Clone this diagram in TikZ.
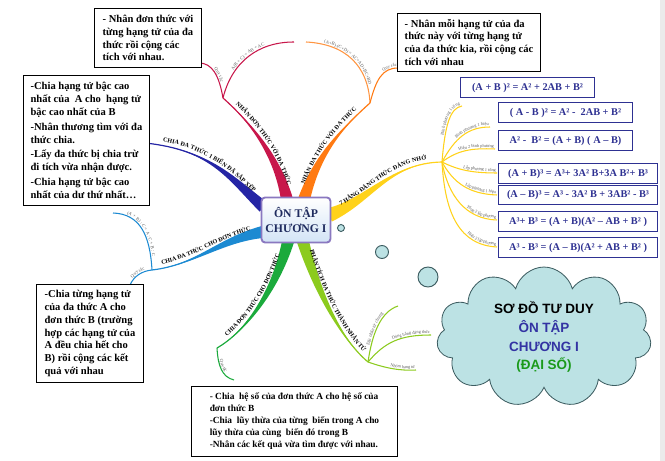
\documentclass[tikz,border=0pt]{standalone}
\usepackage{fontspec}
\setmainfont{Liberation Serif}
\newfontfamily\cloudfont{Liberation Sans}
\definecolor{mmRed}{HTML}{C8174B}
\definecolor{mmOrange}{HTML}{FF7A12}
\definecolor{mmYellow}{HTML}{FFD21A}
\definecolor{mmNavy}{HTML}{2525A5}
\definecolor{mmSky}{HTML}{1C8AD2}
\definecolor{mmGreen}{HTML}{1BAA3C}
\definecolor{mmLime}{HTML}{8CCB1E}
\definecolor{mmInk}{HTML}{2E3192}
\definecolor{mmHub}{HTML}{8A78C0}
\definecolor{mmPage}{HTML}{D3E4F6}
\definecolor{mmTitle}{HTML}{1F2B5E}
\definecolor{mmBubble}{HTML}{BCE2E4}
\definecolor{mmEdge}{HTML}{3C5C60}
\definecolor{mmBlue}{HTML}{3333A3}
\definecolor{mmLeaf}{HTML}{1A9A1A}
\definecolor{mmLabel}{HTML}{5A5A5A}
\usetikzlibrary{calc,positioning,shapes.symbols,decorations.text,backgrounds}

% tapered branch: colour, start, control 1, control 2, end, half width
\newcommand{\mmbranch}[6]{%
  \fill[#1] ($(#2)!#6!90:(#3)$) .. controls ($(#3)!0.5*#6!90:(#4)$) and (#4) .. (#5)
    .. controls (#4) and ($(#3)!0.5*#6!-90:(#4)$) .. ($(#2)!#6!-90:(#3)$) -- cycle;
  \draw[#1, line width=1pt] (#2) .. controls (#3) and (#4) .. (#5);}

\tikzset{
  note/.style={draw, line width=0.8pt, fill=white, anchor=north west, align=left,
    inner xsep=0.14cm, font=\fontsize{9}{11}\selectfont\bfseries},
  formula/.style={draw=mmInk, line width=0.9pt, fill=white, text=mmInk, anchor=north west,
    align=left, inner xsep=0.1cm, minimum height=0.6cm, font=\fontsize{8.8}{10}\selectfont\bfseries},
  twig/.style={line width=0.9pt},
  bubble/.style={circle, draw=mmEdge, line width=0.8pt, fill=mmBubble, inner sep=0pt},
  brtext/.style={postaction={decorate, decoration={text along path, text align=center,
    raise=3.5pt, text={|\fontsize{5.2}{6}\selectfont\bfseries|#1}}}},
  twtext/.style={postaction={decorate, decoration={text along path, text align=center,
    raise=1.4pt, text color=mmLabel, text={|\fontsize{3.9}{4}\selectfont|#1}}}},
  twend/.style={postaction={decorate, decoration={text along path, text align={right, right indent=1pt},
    raise=1.4pt, text color=mmLabel, text={|\fontsize{3.7}{4}\selectfont|#1}}}},
}

\begin{document}
\begin{tikzpicture}[x=0.03cm, y=-0.03cm]
  \useasboundingbox (0,0) rectangle (665,461);

  \node[draw=mmHub, line width=1.6pt, rounded corners=3pt, top color=white, bottom color=mmPage,
    minimum width=2.04cm, minimum height=1.35cm, align=center, text=mmTitle,
    font=\fontsize{10}{12.5}\selectfont\bfseries] (hub) at (296,220) {ÔN TẬP\\CHƯƠNG I};

  \coordinate (sMono) at ($(hub.north)+(-9,3)$);
  \coordinate (sPoly) at ($(hub.north)+(8,3)$);
  \coordinate (sHd) at ($(hub.east)+(-2,-5)$);
  \coordinate (sLong) at ($(hub.west)+(3,-13)$);
  \coordinate (sDivPoly) at ($(hub.west)+(2,12)$);
  \coordinate (sDivMono) at ($(hub.south)+(-8,-2)$);
  \coordinate (sFactor) at ($(hub.south)+(7,-2)$);

  \coordinate (jMono) at (223,98);
  \coordinate (jPoly) at (370,103);
  \coordinate (jHd) at (442,162);
  \coordinate (eLong) at (145,143);
  \coordinate (jDivPoly) at (152,270);
  \coordinate (jDivMono) at (217,348);
  \coordinate (jFactor) at (368,362);

  \begin{scope}[on background layer]
    \fill[white] (0,0) rectangle (665,461);
    \fill[black!8] (660,0) rectangle (665,461);
    \mmbranch{mmRed}{sMono}{277,155}{250,122}{jMono}{0.18cm}
    \mmbranch{mmOrange}{sPoly}{317,155}{342,128}{jPoly}{0.18cm}
    \mmbranch{mmYellow}{sHd}{370,200}{390,163}{jHd}{0.21cm}
    \mmbranch{mmNavy}{sLong}{232,180}{212,150}{eLong}{0.18cm}
    \mmbranch{mmSky}{sDivPoly}{220,240}{195,265}{jDivPoly}{0.18cm}
    \mmbranch{mmGreen}{sDivMono}{275,292}{245,332}{jDivMono}{0.18cm}
    \mmbranch{mmLime}{sFactor}{318,295}{342,340}{jFactor}{0.18cm}
  \end{scope}

  \path[brtext={NHÂN ĐƠN THỨC VỚI ĐA THỨC}] (jMono) .. controls (250,122) and (277,155) .. (sMono);
  \path[brtext={NHÂN ĐA THỨC VỚI ĐA THỨC}] (sPoly) .. controls (317,155) and (342,128) .. (jPoly);
  \path[brtext={7 HẰNG ĐẲNG THỨC ĐÁNG NHỚ}] (sHd) .. controls (370,200) and (390,163) .. (jHd);
  \path[brtext={CHIA ĐA THỨC 1 BIẾN ĐÃ SẮP XẾP}] (eLong) .. controls (212,150) and (232,180) .. (sLong);
  \path[brtext={CHIA ĐA THỨC CHO ĐƠN THỨC}] (jDivPoly) .. controls (195,265) and (220,240) .. (sDivPoly);
  \path[brtext={CHIA ĐƠN THỨC CHO ĐƠN THỨC}] (jDivMono) .. controls (245,332) and (275,292) .. (sDivMono);
  \path[brtext={PHÂN TÍCH ĐA THỨC THÀNH NHÂN TỬ}] (sFactor) .. controls (318,295) and (342,340) .. (jFactor);

  \coordinate (eMonoRule) at (199,63);
  \coordinate (eMonoLaw) at (294,42);
  \coordinate (ePolyLaw) at (306,42);
  \coordinate (ePolyRule) at (398,68);
  \coordinate (eDivLaw) at (113,213);
  \coordinate (eDivRule) at (130,285);
  \coordinate (eMonoDiv) at (234,380);
  \coordinate (eFac1) at (398,306);
  \coordinate (eFac2) at (431,335);
  \coordinate (eFac3) at (416,370);

  \draw[twig, mmRed, twtext={Quy tắc}] (eMonoRule) .. controls (212,63) and (219,75) .. (jMono);
  \draw[twig, mmRed, twtext={A(B + C) = AB + AC}] (jMono) .. controls (232,62) and (258,42) .. (eMonoLaw);
  \draw[twig, mmOrange!80, twtext={(A+B).(C+D) = AC+AD+BC+BD}] (ePolyLaw) .. controls (345,44) and (368,65) .. (jPoly);
  \draw[twig, mmOrange, twend={Quy tắc}] (jPoly) .. controls (376,80) and (382,68) .. (ePolyRule);
  \draw[twig, mmSky, twtext={(A + B) : C = A : C + B : C}] (eDivLaw) .. controls (140,214) and (150,235) .. (jDivPoly);
  \draw[twig, mmSky, twtext={Quy tắc}] (eDivRule) .. controls (134,276) and (142,271) .. (jDivPoly);
  \draw[twig, mmGreen, twtext={Quy tắc}] (jDivMono) .. controls (218,366) and (222,377) .. (eMonoDiv);
  \draw[twig, mmLime, twtext={Đặt nhân tử chung}] (jFactor) .. controls (372,335) and (380,312) .. (eFac1);
  \draw[twig, mmLime, twend={Dùng hằng đẳng thức}] (jFactor) .. controls (385,342) and (400,335) .. (eFac2);
  \draw[twig, mmLime, twend={Nhóm hạng tử}] (jFactor) .. controls (385,368) and (400,371) .. (eFac3);

  \coordinate (eHd1) at (462,106);
  \coordinate (eHd2) at (490,127);
  \coordinate (eHd3) at (495,149);
  \coordinate (eHd4) at (497,173);
  \coordinate (eHd5) at (497,195);
  \coordinate (eHd6) at (497,220);
  \coordinate (eHd7) at (497,247);
  \draw[twig, mmYellow, twend={Bình phương 1 tổng}] (jHd) .. controls (445,125) and (450,108) .. (eHd1);
  \draw[twig, mmYellow, twend={Bình phương 1 hiệu}] (jHd) .. controls (455,138) and (468,127) .. (eHd2);
  \draw[twig, mmYellow, twend={Hiệu 2 bình phương}] (jHd) .. controls (458,150) and (472,148) .. (eHd3);
  \draw[twig, mmYellow, twend={Lập phương 1 tổng}] (jHd) .. controls (458,170) and (472,173) .. (eHd4);
  \draw[twig, mmYellow, twend={Lập phương 1 hiệu}] (jHd) .. controls (453,182) and (468,194) .. (eHd5);
  \draw[twig, mmYellow, twend={Tổng 2 lập phương}] (jHd) .. controls (448,195) and (465,219) .. (eHd6);
  \draw[twig, mmYellow, twend={Hiệu 2 lập phương}] (jHd) .. controls (445,215) and (460,245) .. (eHd7);

  \node[formula, minimum width=4.02cm] (fHd1) at (460,77) {(A + B )² = A² + 2AB + B²};
  \node[formula, minimum width=4.02cm] (fHd2) at (498,102) {( A - B )² = A² -~ 2AB + B²};
  \node[formula, minimum width=4.02cm] (fHd3) at (498,130) {A² -~ B² = (A + B) ( A – B)};
  \node[formula, minimum width=4.77cm] (fHd4) at (498,163) {(A + B)³ = A³+ 3A² B+3A B²+ B³};
  \node[formula, minimum width=4.77cm, minimum height=0.57cm] (fHd5) at (498,185) {(A – B)³ = A³ - 3A² B + 3AB² - B³};
  \node[formula, minimum width=4.77cm] (fHd6) at (498,211) {A³+ B³ = (A + B)(A² – AB + B² )};
  \node[formula, minimum width=4.77cm] (fHd7) at (498,237) {A³ - B³ = (A – B)(A² + AB + B² )};

  \node[note, minimum width=3.21cm, minimum height=1.77cm] (boxMono) at (94,8)
    {- Nhân đơn thức với\\từng hạng tử của đa\\thức rồi cộng các\\tích với nhau.};
  \node[note, minimum width=4.29cm, minimum height=1.74cm] (boxPoly) at (397,13)
    {- Nhân mỗi hạng tử của đa\\thức này với từng hạng tử\\của đa thức kia, rồi cộng các\\tích với nhau};
  \node[note, minimum width=3.78cm, minimum height=3.9cm] (boxLong) at (23,75)
    {-Chia hạng tử bậc cao\\nhất của~ A cho~ hạng tử\\bậc cao nhất của B\\[1.5pt]
     -Nhân thương tìm với đa\\thức chia.\\[1.5pt]
     -Lấy đa thức bị chia trừ\\đi tích vừa nhận được.\\[1.5pt]
     -Chia hạng tử bậc cao\\nhất của dư thứ nhất…};
  \node[note, minimum width=3.21cm, minimum height=2.94cm] (boxDivPoly) at (36,284)
    {-Chia từng hạng tử\\của đa thức A cho\\đơn thức B (trường\\hợp các hạng tử của\\A đều chia hết cho\\B) rồi cộng các kết\\quả với nhau};
  \node[note, minimum width=6.18cm, minimum height=2.1cm,
    font=\fontsize{8}{10.2}\selectfont\bfseries] (boxDivMono) at (191,386)
    {- Chia~ hệ số của đơn thức A cho hệ số của\\đơn thức B\\-Chia~ lũy thừa của từng~ biến trong A cho\\lũy thừa của cùng~ biến đó trong B\\-Nhân các kết quả vừa tìm được với nhau.};

  \node[bubble, minimum size=0.21cm] (dotA) at (341,228) {};
  \node[bubble, minimum size=0.39cm] (dotB) at (382,252) {};
  \node[bubble, minimum size=0.6cm] (dotC) at (428,277) {};

  \node[cloud, cloud puffs=11, aspect=2, draw=mmEdge, line width=0.7pt, fill=mmBubble,
    minimum width=6.4cm, minimum height=2.95cm, inner sep=0pt, align=center,
    font=\cloudfont\bfseries\fontsize{11.5}{16}\selectfont] (title) at (544,337)
    {SƠ ĐỒ TƯ DUY\\\textcolor{mmBlue}{ÔN TẬP}\\\textcolor{mmBlue}{CHƯƠNG I}\\\textcolor{mmLeaf}{(ĐẠI SỐ)}};
\end{tikzpicture}
\end{document}
